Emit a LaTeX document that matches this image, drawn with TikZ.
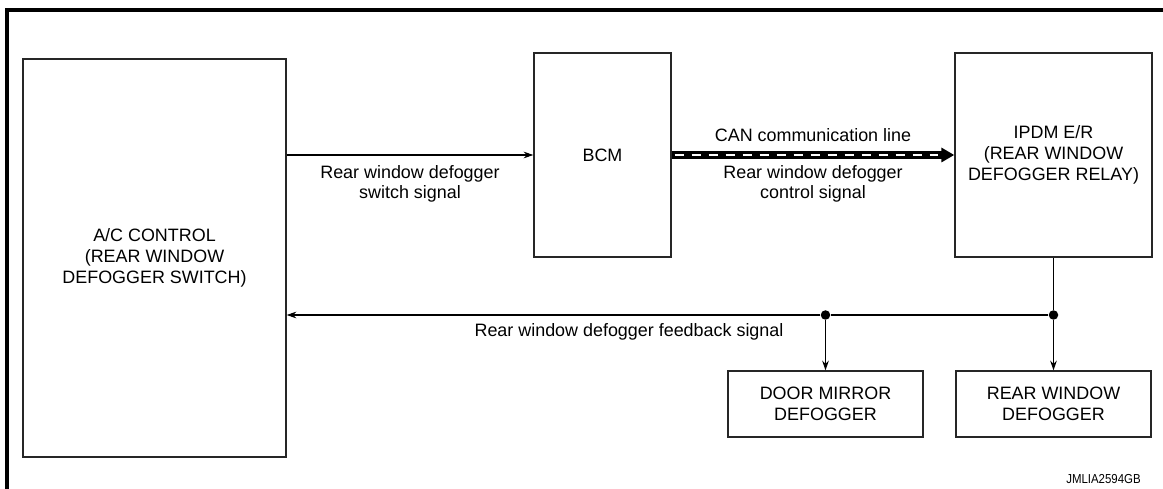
\documentclass[tikz,border=0pt]{standalone}
\usepackage{fontspec}
\setmainfont{Liberation Sans}
\usetikzlibrary{arrows.meta}

\begin{document}
\begin{tikzpicture}[x=0.02cm, y=-0.02cm,
	box/.style={draw=black!85, line width=0.8pt, rectangle, inner sep=0pt, align=center, font=\fontsize{10.2}{11.8}\selectfont},
	dot/.style={circle, fill, inner sep=0pt, minimum size=0.19cm},
	lbl/.style={align=center, inner sep=0pt, font=\fontsize{10.2}{11.3}\selectfont},
	sig/.style={black, line width=0.6pt, -{Stealth[length=5.5pt, width=3.8pt]}}]
	
	\useasboundingbox (0,0) rectangle (1163,489);
	\draw[line width=2.1pt] (7,489) -- (7,10) -- (1163,10);
	
	\node[box, minimum width=263*0.02cm, minimum height=398*0.02cm] (ac) at (154.5, 258) {A/C CONTROL\\(REAR WINDOW\\DEFOGGER SWITCH)};
	\node[box, minimum width=137*0.02cm, minimum height=204*0.02cm] (bcm) at (602.5, 155) {BCM};
	\node[box, minimum width=197*0.02cm, minimum height=204*0.02cm] (ipdm) at (1053.5, 155) {IPDM E/R\\(REAR WINDOW\\DEFOGGER RELAY)};
	\node[box, minimum width=195*0.02cm, minimum height=66*0.02cm] (mirror) at (825.5, 404) {DOOR MIRROR\\DEFOGGER};
	\node[box, minimum width=195*0.02cm, minimum height=66*0.02cm] (rear) at (1053.5, 404) {REAR WINDOW\\DEFOGGER};
	\node[dot] (j1) at (825.5, 315) {};
	\node[dot] (j2) at (1053.5, 315) {};
	
	\draw[sig] (ac.east |- bcm.west) -- (bcm.west);
	\draw[line width=4pt, -{Triangle[length=13*0.02cm, width=14*0.02cm]}] (bcm.east) -- (ipdm.west);
	\draw[white, line width=1.6pt, dash pattern=on 9*0.02cm off 8*0.02cm, dash phase=-3*0.02cm] (bcm.east) -- ([xshift=-16*0.02cm]ipdm.west);
	\draw[black, line width=0.6pt] (ipdm.south) -- (j2);
	\draw[black, line width=0.6pt] (j2) -- (j1);
	\draw[sig] (j1) -- (ac.east |- j1);
	\draw[sig] (j1) -- (mirror.north);
	\draw[sig] (j2) -- (rear.north);
	
	\node[lbl] (sw) at (410, 184) {Rear window defogger\\switch signal};
	\node[lbl] (can) at (813, 135) {CAN communication line};
	\node[lbl] (ctl) at (813, 184) {Rear window defogger\\control signal};
	\node[lbl] (fb) at (629, 332) {Rear window defogger feedback signal};
	\node[lbl, font=\fontsize{7.4}{8}\selectfont, xscale=0.88, transform shape, anchor=east] (ref) at (1141, 479) {JMLIA2594GB};
\end{tikzpicture}
\end{document}
